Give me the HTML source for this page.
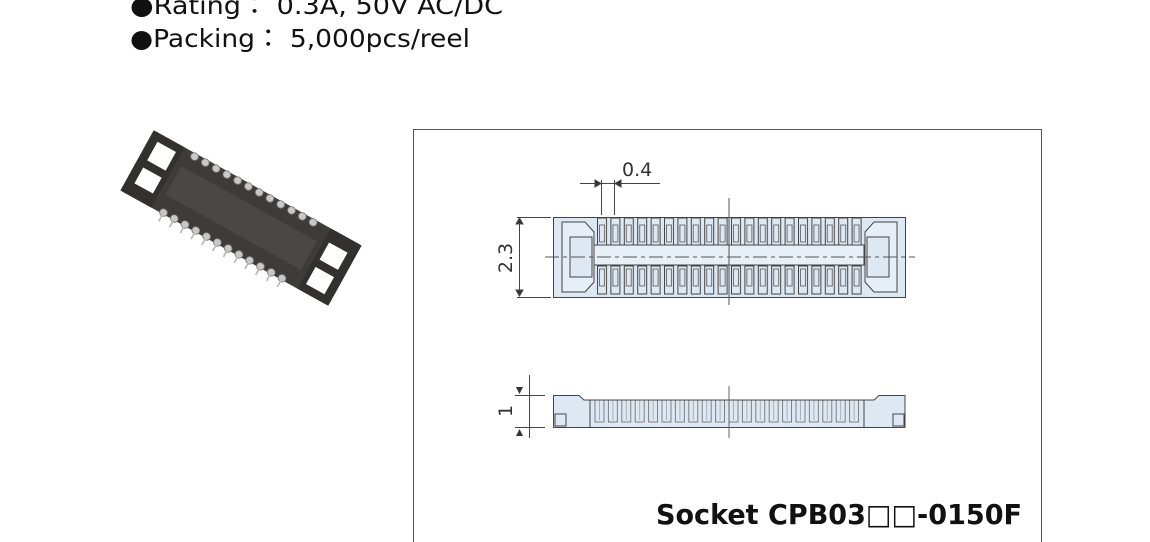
<!DOCTYPE html>
<html><head><meta charset="utf-8"><style>
html,body{margin:0;padding:0;background:#fff;width:1150px;height:542px;overflow:hidden;position:relative}
</style></head><body>
<svg width="1150" height="542" style="position:absolute;left:0;top:0">
<defs>
<pattern id="pu" x="596" y="0" width="13.4" height="542" patternUnits="userSpaceOnUse">
<rect x="1.5" y="218" width="9" height="27" fill="#dde8f2" stroke="#444" stroke-width="1"/>
<rect x="3.5" y="225" width="5" height="17" fill="none" stroke="#555" stroke-width="0.8"/>
<rect x="1.5" y="266" width="9" height="28" fill="#dde8f2" stroke="#444" stroke-width="1"/>
<rect x="3.5" y="269" width="5" height="17" fill="none" stroke="#555" stroke-width="0.8"/>
</pattern>
<pattern id="ps" x="594" y="0" width="13.4" height="542" patternUnits="userSpaceOnUse">
<rect x="1" y="400" width="9" height="22" fill="none" stroke="#666" stroke-width="0.8"/>
<line x1="5.5" y1="400" x2="5.5" y2="420" stroke="#888" stroke-width="0.6"/>
</pattern>
</defs>
<g font-family="DejaVu Sans,Noto Sans CJK JP,sans-serif" font-size="25" fill="#111">
<text x="130" y="14" textLength="373" lengthAdjust="spacingAndGlyphs">●Rating：  0.3A, 50V AC/DC</text>
<text x="130" y="47" textLength="340" lengthAdjust="spacingAndGlyphs">●Packing：  5,000pcs/reel</text>
</g>
<text x="656" y="524" textLength="366" lengthAdjust="spacingAndGlyphs" font-family="DejaVu Sans,Noto Sans CJK JP,sans-serif" font-weight="bold" font-size="28" fill="#111">Socket CPB03□□-0150F</text>
<rect x="413.5" y="129.5" width="628" height="420" fill="none" stroke="#555" stroke-width="1"/>
<!-- photo -->
<g transform="translate(241,218) rotate(29) scale(0.88,0.82)">
<rect x="-135" y="-42" width="270" height="84" rx="4" fill="#3e3c3a"/>
<rect x="-135" y="-42" width="40" height="84" fill="#33312f"/>
<rect x="95" y="-42" width="40" height="84" fill="#33312f"/>
<rect x="-125" y="-32" width="24" height="26" fill="#fff"/>
<rect x="-125" y="4" width="24" height="22" fill="#fff"/>
<rect x="101" y="-26" width="24" height="24" fill="#fff"/>
<rect x="101" y="8" width="24" height="24" fill="#fff"/>
<rect x="-88" y="-20" width="176" height="40" fill="#4a4846"/>
<g fill="#c8c8c8" stroke="#777" stroke-width="1">
<circle cx="-80" cy="-38" r="4.5"/><circle cx="-66" cy="-38" r="4.5"/><circle cx="-52" cy="-38" r="4.5"/><circle cx="-38" cy="-38" r="4.5"/><circle cx="-24" cy="-38" r="4.5"/><circle cx="-10" cy="-38" r="4.5"/><circle cx="4" cy="-38" r="4.5"/><circle cx="18" cy="-38" r="4.5"/><circle cx="32" cy="-38" r="4.5"/><circle cx="46" cy="-38" r="4.5"/><circle cx="60" cy="-38" r="4.5"/><circle cx="74" cy="-38" r="4.5"/>
<circle cx="-80" cy="40" r="4.5"/><circle cx="-66" cy="40" r="4.5"/><circle cx="-52" cy="40" r="4.5"/><circle cx="-38" cy="40" r="4.5"/><circle cx="-24" cy="40" r="4.5"/><circle cx="-10" cy="40" r="4.5"/><circle cx="4" cy="40" r="4.5"/><circle cx="18" cy="40" r="4.5"/><circle cx="32" cy="40" r="4.5"/><circle cx="46" cy="40" r="4.5"/><circle cx="60" cy="40" r="4.5"/><circle cx="74" cy="40" r="4.5"/>
</g>
<g stroke="#bbb" stroke-width="2">
<line x1="-80" y1="44" x2="-80" y2="52"/><line x1="-66" y1="44" x2="-66" y2="52"/><line x1="-52" y1="44" x2="-52" y2="52"/><line x1="-38" y1="44" x2="-38" y2="52"/><line x1="-24" y1="44" x2="-24" y2="52"/><line x1="-10" y1="44" x2="-10" y2="52"/><line x1="4" y1="44" x2="4" y2="52"/><line x1="18" y1="44" x2="18" y2="52"/><line x1="32" y1="44" x2="32" y2="52"/><line x1="46" y1="44" x2="46" y2="52"/><line x1="60" y1="44" x2="60" y2="52"/><line x1="74" y1="44" x2="74" y2="52"/>
</g>
</g>
<!-- top view -->
<g stroke="#444" stroke-width="1" fill="none">
<rect x="553.5" y="217.5" width="352" height="80" fill="#dde8f2"/>
<path d="M562,222 H585 L594,232 V282 L585,292 H562 Z" fill="#e6eef6"/>
<path d="M897,222 H874 L865,232 V282 L874,292 H897 Z" fill="#e6eef6"/>
<rect x="570" y="237" width="22" height="40" fill="#dde8f2"/>
<rect x="867" y="237" width="22" height="40" fill="#dde8f2"/>
<rect x="594" y="245" width="270" height="20" fill="#e8f0f7"/>
<rect x="594" y="217" width="270" height="80" fill="url(#pu)" stroke="none"/>
<line x1="545" y1="257" x2="915" y2="257" stroke-dasharray="14,4,4,4" stroke="#555"/>
<line x1="729" y1="198" x2="729" y2="305" stroke="#555"/>
<line x1="517" y1="217.5" x2="551" y2="217.5"/>
<line x1="517" y1="297.5" x2="551" y2="297.5"/>
<line x1="519.5" y1="219" x2="519.5" y2="296"/>
<polygon points="516,224 523,224 519.5,218" fill="#333"/>
<polygon points="516,290 523,290 519.5,296" fill="#333"/>
<line x1="601.5" y1="180" x2="601.5" y2="215"/>
<line x1="614.5" y1="180" x2="614.5" y2="215"/>
<line x1="580" y1="183.5" x2="660" y2="183.5"/>
<polygon points="595,180 595,187 601,183.5" fill="#333"/>
<polygon points="621,180 621,187 615,183.5" fill="#333"/>
</g>
<text x="622" y="176" font-family="DejaVu Sans,sans-serif" font-size="19" fill="#333">0.4</text>
<text transform="translate(512,258) rotate(-90)" text-anchor="middle" font-family="DejaVu Sans,sans-serif" font-size="19" fill="#333">2.3</text>
<!-- side view -->
<g stroke="#444" stroke-width="1">
<path d="M553.5,395.5 H579 L584,400 H874 L879,395.5 H905 V427.5 H553.5 Z" fill="#dde8f2"/>
<rect x="592" y="400" width="270" height="27" fill="url(#ps)" stroke="none"/>
<line x1="590" y1="400" x2="864" y2="400"/>
<line x1="590" y1="400" x2="590" y2="427"/>
<line x1="864" y1="400" x2="864" y2="427"/>
<rect x="555" y="414" width="11" height="12" fill="none"/>
<rect x="893" y="414" width="11" height="12" fill="none"/>
<line x1="729" y1="386" x2="729" y2="438" stroke="#666"/>
<line x1="515" y1="395.5" x2="545" y2="395.5"/>
<line x1="515" y1="427.5" x2="545" y2="427.5"/>
<line x1="529.5" y1="375" x2="529.5" y2="438"/>
<polygon points="516,387 523,387 519.5,394" fill="#333" stroke="none"/>
<polygon points="516,436 523,436 519.5,429" fill="#333" stroke="none"/>
</g>
<text transform="translate(512,411) rotate(-90)" text-anchor="middle" font-family="DejaVu Sans,sans-serif" font-size="19" fill="#333">1</text>
</svg>
</body></html>
